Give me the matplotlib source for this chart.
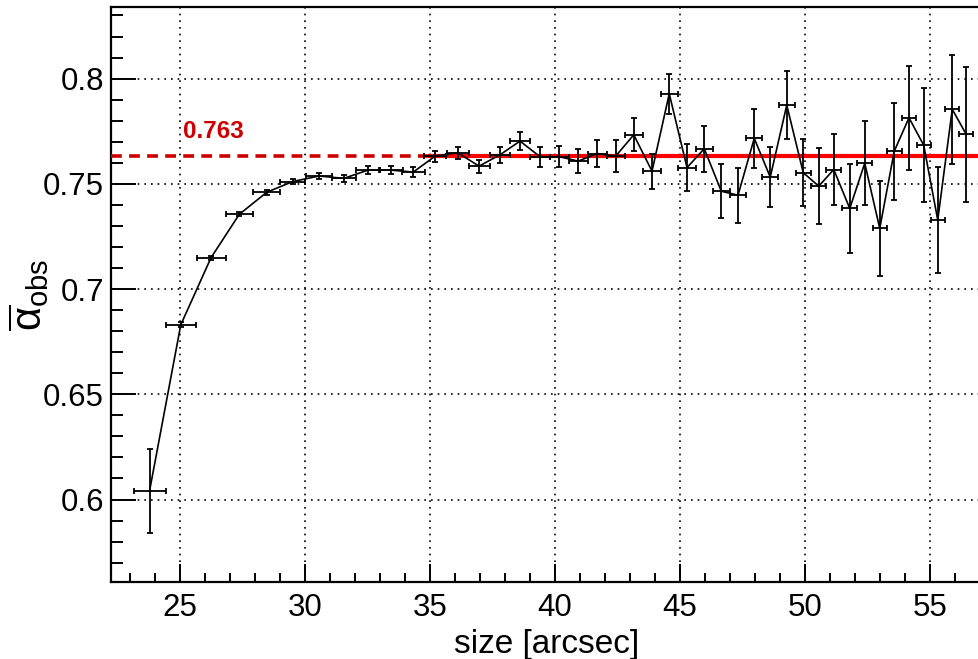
import matplotlib
matplotlib.use("Agg")
import matplotlib.pyplot as plt
from matplotlib.ticker import MultipleLocator

plt.rcParams['font.family'] = ['Liberation Sans', 'DejaVu Sans']
plt.rcParams['mathtext.fontset'] = 'custom'
plt.rcParams['mathtext.rm'] = 'Liberation Sans'
plt.rcParams['mathtext.it'] = 'Liberation Sans:italic'

# Mean observed alpha per size bin
size = [23.78, 25.03, 26.24, 27.37, 28.47, 29.51, 30.56, 31.55, 32.52, 33.44,
        34.33, 35.21, 36.11, 36.96, 37.80, 38.60, 39.40, 40.17, 40.93, 41.69,
        42.43, 43.15, 43.88, 44.57, 45.28, 45.97, 46.65, 47.32, 47.97, 48.61,
        49.27, 49.93, 50.55, 51.15, 51.79, 52.39, 52.99, 53.57, 54.16, 54.75,
        55.31, 55.89, 56.45]
size_err = [0.64, 0.60, 0.58, 0.55, 0.54, 0.50, 0.52, 0.49, 0.47, 0.47,
            0.45, 0.44, 0.43, 0.42, 0.41, 0.40, 0.39, 0.39, 0.38, 0.37,
            0.365, 0.36, 0.355, 0.35, 0.345, 0.34, 0.33, 0.325, 0.32, 0.32,
            0.315, 0.31, 0.305, 0.30, 0.30, 0.295, 0.29, 0.29, 0.285, 0.28,
            0.28, 0.275, 0.275]
alpha = [0.604, 0.683, 0.7149, 0.7355, 0.746, 0.7511, 0.7537, 0.7526, 0.7565, 0.7565,
         0.7556, 0.7632, 0.7648, 0.7584, 0.7638, 0.7703, 0.7629, 0.7629, 0.7608, 0.7644,
         0.7632, 0.7733, 0.756, 0.7928, 0.7577, 0.7667, 0.7465, 0.7446, 0.7716, 0.7532,
         0.7874, 0.7553, 0.7489, 0.7568, 0.7383, 0.7598, 0.7288, 0.7655, 0.7814, 0.7683,
         0.7328, 0.7854, 0.7735]
alpha_err = [0.020, 0.0012, 0.0010, 0.0010, 0.0012, 0.0013, 0.0015, 0.0015, 0.0018, 0.0020,
             0.0022, 0.0026, 0.0029, 0.0031, 0.0038, 0.0041, 0.0047, 0.0050, 0.0057, 0.0065,
             0.0074, 0.0078, 0.0084, 0.0095, 0.011, 0.011, 0.0127, 0.013, 0.0141, 0.0143,
             0.016, 0.0158, 0.018, 0.0169, 0.021, 0.0199, 0.0226, 0.023, 0.0247, 0.027,
             0.025, 0.026, 0.032]

plateau = 0.763
fit_start = 35.0
xlim = (22.24, 56.96)
ylim = (0.5608, 0.834)

fig = plt.figure(figsize=(9.79, 6.59), dpi=100)
ax = fig.add_axes([0.1134, 0.1168, 0.8866, 0.8725])

ax.set_xlim(*xlim)
ax.set_ylim(*ylim)

ax.grid(True, which='major', color='black', linestyle=(0, (1, 3)), linewidth=1.2)
ax.set_axisbelow(True)

# plateau level: dashed across the whole range, solid over the fitted range
ax.plot(xlim, [plateau, plateau], color='#cc0000', linestyle=(0, (3, 2)),
        linewidth=2.6, zorder=3)
ax.plot([fit_start, xlim[1]], [plateau, plateau], color='#ff0000',
        linewidth=3.0, zorder=3)
ax.text(25.12, 0.7717, f"{plateau:.3f}", color='#cc0000', fontsize=17.5,
        fontweight='bold', ha='left', va='baseline')

ax.errorbar(size, alpha, xerr=size_err, yerr=alpha_err, color='black',
            linewidth=1.2, elinewidth=1.3, capsize=2.0, capthick=1.3, zorder=4)

ax.xaxis.set_major_locator(MultipleLocator(5))
ax.xaxis.set_minor_locator(MultipleLocator(1))
ax.yaxis.set_major_locator(MultipleLocator(0.05))
ax.yaxis.set_minor_locator(MultipleLocator(0.01))
ax.yaxis.set_major_formatter(plt.FuncFormatter(lambda v, p: f"{v:g}"))

ax.tick_params(axis='x', which='major', direction='in', length=13, width=1.4,
               labelsize=22.5, pad=8)
ax.tick_params(axis='x', which='minor', direction='in', length=6.5, width=1.4)
ax.tick_params(axis='y', which='major', direction='in', length=18, width=1.4,
               labelsize=22.5, pad=5)
ax.tick_params(axis='y', which='minor', direction='in', length=8.6, width=1.4)

for side in ('left', 'bottom', 'top'):
    ax.spines[side].set_linewidth(1.6)
ax.spines['right'].set_visible(False)

ax.set_xlabel('size [arcsec]', fontsize=24)
ax.xaxis.set_label_coords(0.502, -0.082)
ax.set_ylabel(r'$\overline{\mathrm{\alpha}}_{\mathrm{obs}}$', fontsize=30)
ax.yaxis.set_label_coords(-0.069, 0.5)

fig.savefig('out.png', dpi=100)
